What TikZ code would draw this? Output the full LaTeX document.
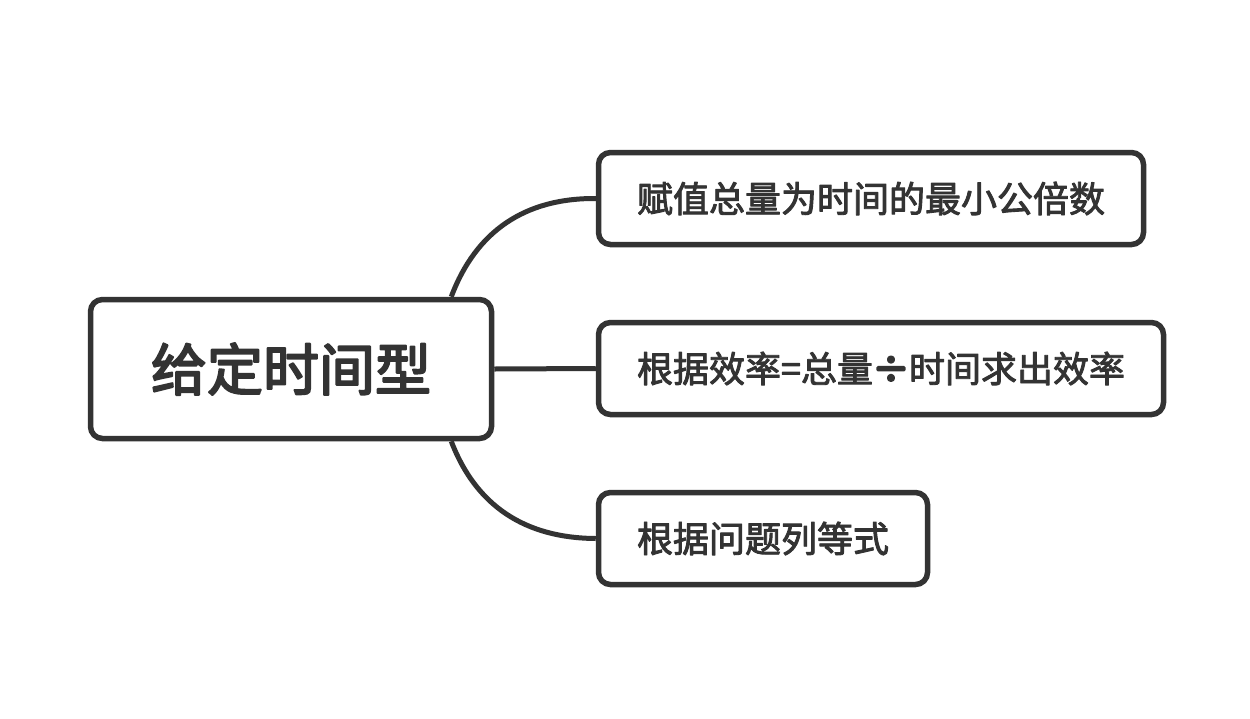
\documentclass[tikz,border=0pt]{standalone}
\usepackage{fontspec}
\usetikzlibrary{backgrounds}
\newfontfamily\cjk{Noto Sans CJK SC}
\newcommand\heavytext[2]{\special{pdf:literal direct 2 Tr #1 w 1 J 1 j}#2\special{pdf:literal direct 0 Tr}}
\definecolor{ink}{HTML}{333333}
\pgfdeclarelayer{bottom}
\pgfsetlayers{bottom,background,main}
\begin{document}
\begin{tikzpicture}[x=1pt,y=-1pt,
  box/.style={draw=ink, line width=5.5pt, rounded corners=12pt, fill=white, text=ink, inner sep=0pt, anchor=center},
  rootbox/.style={box, minimum width=401pt, minimum height=139pt, font=\cjk\fontsize{56}{60}\selectfont},
  leafbox/.style={box, minimum height=92pt, font=\cjk\fontsize{36}{40}\selectfont},
  conn/.style={draw=ink, line width=5pt}]
\useasboundingbox (0,0) rectangle (1250,718);
\node[rootbox] (root) at (291,369) {\heavytext{2}{给定时间型}};
\node[leafbox, minimum width=545pt] (c1) at (871,198.5) {\heavytext{0.9}{赋值总量为时间的最小公倍数}};
\node[leafbox, minimum width=565pt] (c2) at (881,368.5) {\heavytext{0.9}{根据效率=总量}\heavytext{3}{÷}\heavytext{0.9}{时间求出效率}};
\node[leafbox, minimum width=329pt] (c3) at (763,538.5) {\heavytext{0.9}{根据问题列等式}};
\begin{pgfonlayer}{bottom}
\fill[white] (0,0) rectangle (1250,718);
\end{pgfonlayer}
\begin{pgfonlayer}{background}
\draw[conn] ([xshift=-43]root.north east) .. controls (476,231) and (525,198) .. (c1.west);
\draw[conn] (root.east) -- (c2.west);
\draw[conn] ([xshift=-43]root.south east) .. controls (476,506) and (525,538) .. (c3.west);
\end{pgfonlayer}
\end{tikzpicture}
\end{document}
